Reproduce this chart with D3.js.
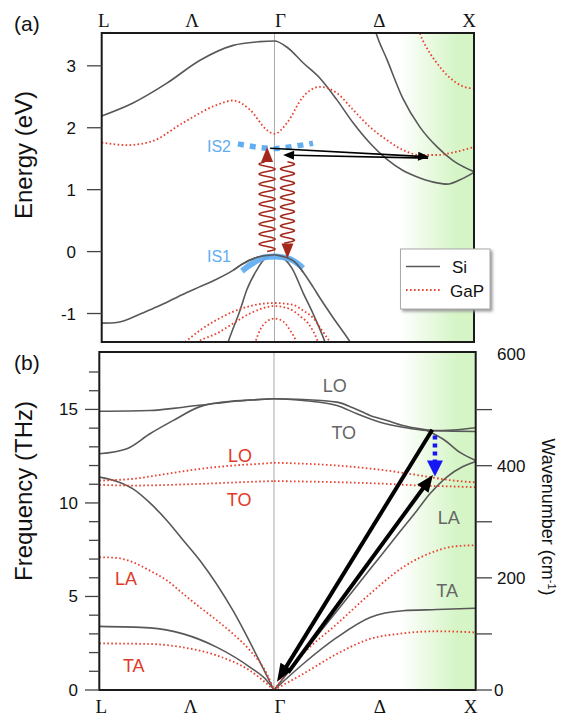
<!DOCTYPE html>
<html>
<head>
<meta charset="utf-8">
<script src="https://cdn.jsdelivr.net/npm/d3@7/dist/d3.min.js"></script>
<style>
  body { margin: 0; background: #fff; }
  svg text { font-family: 'Liberation Sans', Arial, Helvetica, sans-serif; }
</style>
</head>
<body>
<div id="chart"></div>
<script>
// path positions, units of 2pi/a  (L -> Gamma -> X)
var kPoints = [0, 0.433, 0.866, 1.366, 1.866];
var kLabels = ['L', 'Λ', 'Γ', 'Δ', 'X'];
var energyTicks = [-1, 0, 1, 2, 3];
var freqTicks = [0, 5, 10, 15];
var freqMinor = [1, 2, 3, 4, 6, 7, 8, 9, 11, 12, 13, 14, 16, 17];
var waveTicks = [0, 100, 200, 300, 400, 500];
var waveLabels = [0, 200, 400, 600];

// (a) electron bands [k, E (eV)]
var siBand1 = [[0,2.19],[0.157,2.40],[0.327,2.72],[0.493,3.09],[0.659,3.33],[0.793,3.39],[0.866,3.40],[0.929,3.30],[1.009,3.05],[1.094,2.80],[1.179,2.45],[1.26,2.08],[1.345,1.75],[1.43,1.49],[1.51,1.31],[1.595,1.19],[1.681,1.11],[1.731,1.09],[1.796,1.16],[1.866,1.28]];
var siBand2 = [[1.355,3.75],[1.375,3.53],[1.43,3.10],[1.51,2.47],[1.595,2.01],[1.681,1.69],[1.761,1.47],[1.866,1.29]];
var siVal1 = [[0,-1.155],[0.05,-1.152],[0.10,-1.13],[0.15,-1.07],[0.22,-0.97],[0.30,-0.86],[0.40,-0.70],[0.49,-0.57],[0.56,-0.47],[0.66,-0.30],[0.70,-0.21],[0.78,-0.09],[0.866,-0.05]];
var siVal2 = [[0.613,-1.67],[0.634,-1.46],[0.693,-0.95],[0.727,-0.62],[0.777,-0.30],[0.819,-0.11],[0.866,-0.05]];
var siVal3 = [[0.866,-0.05],[0.929,-0.10],[0.969,-0.17],[1.009,-0.33],[1.059,-0.57],[1.094,-0.75],[1.169,-1.11],[1.245,-1.46],[1.275,-1.62]];
var siVal4 = [[0.866,-0.05],[0.919,-0.13],[0.954,-0.27],[1.010,-0.67],[1.059,-1.00],[1.119,-1.46],[1.134,-1.60]];
var gapBand1 = [[0,1.76],[0.127,1.72],[0.242,1.77],[0.408,2.08],[0.578,2.37],[0.658,2.44],[0.743,2.29],[0.829,1.96],[0.866,1.90],[0.929,2.08],[1.009,2.50],[1.094,2.66],[1.179,2.56],[1.26,2.29],[1.345,2.01],[1.43,1.80],[1.51,1.64],[1.595,1.56],[1.681,1.56],[1.761,1.60],[1.866,1.69]];
var gapBand2 = [[1.575,3.71],[1.595,3.52],[1.646,3.20],[1.681,3.04],[1.731,2.85],[1.781,2.72],[1.846,2.64],[1.866,2.64]];
var gapVal1 = [[0.355,-1.62],[0.418,-1.46],[0.493,-1.27],[0.578,-1.10],[0.659,-0.97],[0.743,-0.88],[0.866,-0.83],[0.959,-0.86],[1.009,-0.95],[1.059,-1.07],[1.104,-1.27],[1.144,-1.46],[1.174,-1.60]];
var gapVal2 = [[0.41,-1.62],[0.478,-1.46],[0.578,-1.32],[0.659,-1.16],[0.743,-1.00],[0.866,-0.88],[0.944,-0.93],[0.994,-1.04],[1.044,-1.20],[1.084,-1.46],[1.10,-1.62]];
var gapVal3 = [[0.753,-1.62],[0.768,-1.48],[0.793,-1.27],[0.827,-1.13],[0.866,-1.08],[0.91,-1.13],[0.944,-1.27],[0.977,-1.48],[0.989,-1.62]];

// intermediate states and transitions in (a)
var is2Path = [[0.683,1.74],[0.773,1.69],[0.866,1.665],[0.964,1.70],[1.059,1.75]];
var is1Path = [[0.703,-0.315],[0.743,-0.218],[0.783,-0.137],[0.823,-0.089],[0.866,-0.081],[0.903,-0.089],[0.943,-0.121],[0.979,-0.186],[1.009,-0.267]];
var photonUp = { k: 0.829, from: 0.0, to: 1.69 };
var photonDown = { k: 0.931, from: 1.45, to: -0.11 };
var hopOut = { k1: 0.844, e1: 1.67, k2: 1.641, e2: 1.53 };
var hopBack = { k1: 1.636, e1: 1.51, k2: 0.909, e2: 1.56 };

// (b) phonon branches [k, f (THz)]
var siOpt1 = [[0,14.90],[0.251,14.94],[0.416,15.12],[0.584,15.33],[0.748,15.50],[0.866,15.57]];
var siOpt2 = [[0,12.63],[0.137,12.90],[0.251,13.70],[0.365,14.40],[0.499,15.15],[0.663,15.45],[0.748,15.50],[0.866,15.57]];
var siOpt3 = [[0.866,15.57],[1.010,15.53],[1.178,15.39],[1.257,15.09],[1.342,14.68],[1.426,14.41],[1.505,14.14],[1.590,13.96],[1.654,13.87],[1.753,13.90],[1.866,14.02]];
var siOpt4 = [[0.866,15.57],[1.010,15.48],[1.178,15.21],[1.277,14.77],[1.392,14.32],[1.505,14.05],[1.624,13.87],[1.753,13.84],[1.866,13.82]];
var siOpt5 = [[1.624,13.87],[1.714,13.34],[1.788,12.70],[1.866,12.27]];
var siLA1 = [[0,11.38],[0.088,11.15],[0.167,10.75],[0.251,10.00],[0.336,9.05],[0.416,8.00],[0.499,6.92],[0.663,4.24],[0.831,0.75],[0.866,0]];
var siTA1 = [[0,3.40],[0.251,3.32],[0.416,3.00],[0.584,2.28],[0.748,1.21],[0.831,0.50],[0.866,0]];
var siLA2 = [[0.866,0],[1.010,1.95],[1.178,4.23],[1.342,6.45],[1.491,8.47],[1.575,9.60],[1.640,10.50],[1.724,11.40],[1.803,11.95],[1.866,12.22]];
var siTA2 = [[0.866,0],[1.010,1.39],[1.178,2.81],[1.342,3.88],[1.505,4.24],[1.674,4.30],[1.866,4.37]];
var gapLO1 = [[0,11.20],[0.167,11.29],[0.336,11.56],[0.499,11.82],[0.663,12.00],[0.831,12.12],[0.866,12.15]];
var gapTO1 = [[0,10.97],[0.167,10.93],[0.499,11.02],[0.831,11.16],[0.866,11.17]];
var gapLO2 = [[0.866,12.15],[1.178,12.00],[1.426,11.73],[1.590,11.47],[1.753,11.20],[1.866,11.10]];
var gapTO2 = [[0.866,11.17],[1.178,11.11],[1.426,11.02],[1.590,10.93],[1.753,10.88],[1.866,10.84]];
var gapLA1 = [[0,7.10],[0.088,7.06],[0.167,6.83],[0.251,6.38],[0.336,5.85],[0.416,5.14],[0.499,4.42],[0.584,3.71],[0.663,3.00],[0.748,2.10],[0.831,0.86],[0.866,0]];
var gapTA1 = [[0,2.49],[0.251,2.46],[0.416,2.28],[0.584,1.84],[0.748,1.03],[0.866,0]];
var gapLA2 = [[0.866,0],[1.010,1.93],[1.178,3.53],[1.342,5.14],[1.505,6.56],[1.674,7.45],[1.753,7.67],[1.866,7.74]];
var gapTA2 = [[0.866,0],[1.010,0.86],[1.178,1.93],[1.342,2.73],[1.505,3.03],[1.674,3.14],[1.866,3.08]];

// branch names [text, k, f, material]
var branchNames = [['LO',1.167,15.92,'si'],['TO',1.212,13.43,'si'],['LA',1.733,8.88,'si'],['TA',1.724,4.99,'si'],
                   ['LO',0.698,12.18,'gap'],['TO',0.693,9.86,'gap'],['LA',0.132,5.63,'gap'],['TA',0.171,0.94,'gap']];
// phonon scattering arrows in (b)
var phonon1 = { k1: 1.651, f1: 13.91, k2: 0.881, f2: 0.44 };
var phonon2 = { k1: 0.936, f1: 0.93, k2: 1.654, f2: 11.50 };
var decay = { k: 1.664, f1: 13.60, f2: 11.42 };

var THZ_TO_CM = 33.356;

var W = 561, H = 719;
var siColor = '#585858', gapColor = '#e8402e';
var boxA = { left: 101.7, right: 474, top: 33, bottom: 342 };
var boxB = { left: 99.3, right: 475.7, top: 352, bottom: 690 };

var svg = d3.select('#chart').append('svg').attr('width', W).attr('height', H);
var defs = svg.append('defs');

var grad = defs.append('linearGradient').attr('id', 'greenFade')
    .attr('gradientUnits', 'userSpaceOnUse').attr('x1', 400).attr('x2', 457).attr('y1', 0).attr('y2', 0);
grad.append('stop').attr('offset', 0).attr('stop-color', '#ffffff');
grad.append('stop').attr('offset', 1).attr('stop-color', '#d5f5c6');

var shadow = defs.append('filter').attr('id', 'shadow').attr('x', -0.2).attr('y', -0.2).attr('width', 1.5).attr('height', 1.5);
shadow.append('feDropShadow').attr('dx', 2).attr('dy', 2).attr('stdDeviation', 1.5).attr('flood-color', '#999');

defs.append('clipPath').attr('id', 'clipA').append('rect')
    .attr('x', boxA.left).attr('y', boxA.top).attr('width', boxA.right - boxA.left).attr('height', boxA.bottom - boxA.top);
defs.append('clipPath').attr('id', 'clipB').append('rect')
    .attr('x', boxB.left).attr('y', boxB.top).attr('width', boxB.right - boxB.left).attr('height', boxB.bottom - boxB.top);

var xA = d3.scaleLinear().domain([0, 1.866]).range([boxA.left, boxA.right]);
var yA = d3.scaleLinear().domain([-1.46, 3.53]).range([boxA.bottom, boxA.top]);
var xB = d3.scaleLinear().domain([0, 1.866]).range([boxB.left, boxB.right]);
var yB = d3.scaleLinear().domain([0, 18.07]).range([boxB.bottom, boxB.top]);
var yW = d3.scaleLinear().domain([0, 18.07 * THZ_TO_CM]).range([boxB.bottom, boxB.top]);

function drawCurve(g, xs, ys, pts, mat) {
    var line = d3.line().x(d => xs(d[0])).y(d => ys(d[1])).curve(d3.curveMonotoneX);
    var p = g.append('path').datum(pts).attr('d', line).attr('fill', 'none');
    if (mat == 'si') {
        p.attr('stroke', siColor).attr('stroke-width', 1.6);
    } else {
        p.attr('stroke', gapColor).attr('stroke-width', 1.8).attr('stroke-dasharray', '1.6,2.4');
    }
}

function arrowHead(g, x1, y1, x2, y2, len, half, color) {
    var a = Math.atan2(y2 - y1, x2 - x1);
    var bx = x2 - len * Math.cos(a), by = y2 - len * Math.sin(a);
    var px = -Math.sin(a) * half, py = Math.cos(a) * half;
    g.append('path')
        .attr('d', 'M' + x2 + ',' + y2 + 'L' + (bx + px) + ',' + (by + py) + 'L' + (bx - px) + ',' + (by - py) + 'Z')
        .attr('fill', color);
}

function arrow(g, x1, y1, x2, y2, width, len, half, color, dash) {
    var a = Math.atan2(y2 - y1, x2 - x1);
    var bx = x2 - (len - 2) * Math.cos(a), by = y2 - (len - 2) * Math.sin(a);
    var l = g.append('line').attr('x1', x1).attr('y1', y1).attr('x2', bx).attr('y2', by)
        .attr('stroke', color).attr('stroke-width', width);
    if (dash) l.attr('stroke-dasharray', dash);
    arrowHead(g, x1, y1, x2, y2, len, half, color);
}

function wavy(g, x, y0, y1, amp, period, color) {
    var n = Math.abs(y1 - y0), dir = y1 > y0 ? 1 : -1;
    var pts = d3.range(0, n + 0.25, 0.5).map(function(t) {
        return [x + amp * Math.sin(2 * Math.PI * t / period), y0 + dir * t];
    });
    g.append('path').attr('d', d3.line()(pts)).attr('fill', 'none')
        .attr('stroke', color).attr('stroke-width', 1.5);
}

// ---------- panel (a) ----------
var gA = svg.append('g');
gA.append('rect').attr('x', 400).attr('y', boxA.top).attr('width', boxA.right - 400).attr('height', boxA.bottom - boxA.top)
    .attr('fill', 'url(#greenFade)');
gA.append('line').attr('x1', xA(0.866)).attr('x2', xA(0.866)).attr('y1', boxA.top).attr('y2', boxA.bottom)
    .attr('stroke', '#aaa').attr('stroke-width', 1);

var curvesA = gA.append('g').attr('clip-path', 'url(#clipA)');
[siBand1, siBand2, siVal1, siVal2, siVal3, siVal4].forEach(d => drawCurve(curvesA, xA, yA, d, 'si'));
[gapBand1, gapBand2, gapVal1, gapVal2, gapVal3].forEach(d => drawCurve(curvesA, xA, yA, d, 'gap'));

var isColor = '#62aef2';
var isLine = d3.line().x(d => xA(d[0])).y(d => yA(d[1])).curve(d3.curveMonotoneX);
gA.append('path').datum(is2Path).attr('d', isLine).attr('fill', 'none')
    .attr('stroke', isColor).attr('stroke-width', 5.5).attr('stroke-dasharray', '6,6');
gA.append('path').datum(is1Path).attr('d', isLine).attr('fill', 'none')
    .attr('stroke', isColor).attr('stroke-width', 6).attr('opacity', 0.95);
// redraw the Si valence top over the IS1 band
drawCurve(gA.append('g').attr('clip-path', 'url(#clipA)'), xA, yA, siVal1.slice(9), 'si');
drawCurve(gA.append('g').attr('clip-path', 'url(#clipA)'), xA, yA, siVal3.slice(0, 4), 'si');

gA.append('text').attr('x', xA(0.588)).attr('y', yA(1.61)).attr('text-anchor', 'middle')
    .attr('fill', isColor).attr('font-size', 16).text('IS2');
gA.append('text').attr('x', xA(0.588)).attr('y', yA(-0.165)).attr('text-anchor', 'middle')
    .attr('fill', isColor).attr('font-size', 16).text('IS1');

var waveColor = '#a3281b';
var upX = xA(photonUp.k), upTip = yA(photonUp.to);
wavy(gA, upX, yA(photonUp.from), upTip + 15, 8, 10, waveColor);
arrowHead(gA, upX, upTip + 30, upX, upTip, 15, 6, waveColor);
var dnX = xA(photonDown.k), dnTip = yA(photonDown.to);
wavy(gA, dnX, yA(photonDown.from), dnTip - 15, 7, 9.5, waveColor);
arrowHead(gA, dnX, dnTip - 30, dnX, dnTip, 15, 6, waveColor);

arrow(gA, xA(hopOut.k1), yA(hopOut.e1), xA(hopOut.k2), yA(hopOut.e2), 1.6, 11, 4.5, '#000');
arrow(gA, xA(hopBack.k1), yA(hopBack.e1), xA(hopBack.k2), yA(hopBack.e2), 1.6, 11, 4.5, '#000');

gA.append('rect').attr('x', boxA.left).attr('y', boxA.top).attr('width', boxA.right - boxA.left)
    .attr('height', boxA.bottom - boxA.top).attr('fill', 'none').attr('stroke', '#1a1a1a').attr('stroke-width', 2);

energyTicks.forEach(function(v) {
    gA.append('line').attr('x1', 87).attr('x2', boxA.left).attr('y1', yA(v)).attr('y2', yA(v))
        .attr('stroke', '#444').attr('stroke-width', 1.3);
    gA.append('text').attr('x', 76).attr('y', yA(v) + 6).attr('text-anchor', 'end')
        .attr('font-size', 17).attr('fill', '#111').text(v);
});

kPoints.forEach(function(k, i) {
    var dx = [2, 4, 6, 5, -5][i];
    svg.append('text').attr('x', xA(k) + dx).attr('y', 27).attr('text-anchor', 'middle')
        .style('font-family', "'Liberation Serif', 'Times New Roman', serif").attr('font-size', 19)
        .attr('fill', '#111').text(kLabels[i]);
    svg.append('text').attr('x', xB(k) + dx).attr('y', 713).attr('text-anchor', 'middle')
        .style('font-family', "'Liberation Serif', 'Times New Roman', serif").attr('font-size', 19)
        .attr('fill', '#111').text(kLabels[i]);
});

svg.append('text').attr('x', 14).attr('y', 31).attr('font-size', 21).attr('fill', '#111').text('(a)');
svg.append('text').attr('x', 14).attr('y', 370).attr('font-size', 21).attr('fill', '#111').text('(b)');
svg.append('text').attr('transform', 'translate(32,155) rotate(-90)').attr('text-anchor', 'middle')
    .attr('font-size', 24).attr('fill', '#111').text('Energy (eV)');
svg.append('text').attr('transform', 'translate(32,491) rotate(-90)').attr('text-anchor', 'middle')
    .attr('font-size', 24).attr('fill', '#111').text('Frequency (THz)');
var wt = svg.append('text').attr('transform', 'translate(542,517) rotate(90)').attr('text-anchor', 'middle')
    .attr('font-size', 18).attr('fill', '#111');
wt.append('tspan').text('Wavenumber (cm');
wt.append('tspan').attr('font-size', 11).attr('dy', -6).text('-1');
wt.append('tspan').attr('dy', 6).text(')');

// legend
var lg = svg.append('g');
lg.append('rect').attr('x', 400.5).attr('y', 249).attr('width', 89.5).attr('height', 60)
    .attr('fill', '#fff').attr('stroke', '#aaa').attr('stroke-width', 1).attr('filter', 'url(#shadow)');
lg.append('line').attr('x1', 406).attr('x2', 440).attr('y1', 266.5).attr('y2', 266.5)
    .attr('stroke', siColor).attr('stroke-width', 1.6);
lg.append('line').attr('x1', 406).attr('x2', 440).attr('y1', 290).attr('y2', 290)
    .attr('stroke', gapColor).attr('stroke-width', 1.8).attr('stroke-dasharray', '1.6,2.4');
lg.append('text').attr('x', 452).attr('y', 272.5).attr('font-size', 17).attr('fill', '#111').text('Si');
lg.append('text').attr('x', 450).attr('y', 296.5).attr('font-size', 17).attr('fill', '#111').text('GaP');

// ---------- panel (b) ----------
var gB = svg.append('g');
gB.append('rect').attr('x', 400).attr('y', boxB.top).attr('width', boxB.right - 400).attr('height', boxB.bottom - boxB.top)
    .attr('fill', 'url(#greenFade)');
gB.append('line').attr('x1', xB(0.866)).attr('x2', xB(0.866)).attr('y1', boxB.top).attr('y2', boxB.bottom)
    .attr('stroke', '#aaa').attr('stroke-width', 1);

var curvesB = gB.append('g').attr('clip-path', 'url(#clipB)');
[siOpt1, siOpt2, siOpt3, siOpt4, siOpt5, siLA1, siTA1, siLA2, siTA2].forEach(d => drawCurve(curvesB, xB, yB, d, 'si'));
[gapLO1, gapTO1, gapLO2, gapTO2, gapLA1, gapTA1, gapLA2, gapTA2].forEach(d => drawCurve(curvesB, xB, yB, d, 'gap'));

branchNames.forEach(function(b) {
    gB.append('text').attr('x', xB(b[1])).attr('y', yB(b[2])).attr('text-anchor', 'middle')
        .attr('font-size', 18).attr('fill', b[3] == 'si' ? '#666' : '#e03a28').text(b[0]);
});

arrow(gB, xB(phonon1.k1), yB(phonon1.f1), xB(phonon1.k2), yB(phonon1.f2), 4, 18, 7, '#000');
arrow(gB, xB(phonon2.k1), yB(phonon2.f1), xB(phonon2.k2), yB(phonon2.f2), 4, 17, 7, '#000');
arrow(gB, xB(decay.k), yB(decay.f1), xB(decay.k), yB(decay.f2), 4.5, 16, 8, '#1717f5', '4,4');

gB.append('rect').attr('x', boxB.left).attr('y', boxB.top).attr('width', boxB.right - boxB.left)
    .attr('height', boxB.bottom - boxB.top).attr('fill', 'none').attr('stroke', '#1a1a1a').attr('stroke-width', 2);

freqTicks.forEach(function(v) {
    gB.append('line').attr('x1', 85).attr('x2', boxB.left).attr('y1', yB(v)).attr('y2', yB(v))
        .attr('stroke', '#444').attr('stroke-width', 1.3);
    gB.append('text').attr('x', 78).attr('y', yB(v) + 6).attr('text-anchor', 'end')
        .attr('font-size', 17).attr('fill', '#111').text(v);
});
freqMinor.forEach(function(v) {
    gB.append('line').attr('x1', 89).attr('x2', boxB.left).attr('y1', yB(v)).attr('y2', yB(v))
        .attr('stroke', '#444').attr('stroke-width', 1.3);
});
waveTicks.forEach(function(v) {
    gB.append('line').attr('x1', boxB.right).attr('x2', 492).attr('y1', yW(v)).attr('y2', yW(v))
        .attr('stroke', '#444').attr('stroke-width', 1.3);
});
waveLabels.forEach(function(v) {
    gB.append('text').attr('x', v == 0 ? 494 : 497).attr('y', yW(v) + 6)
        .attr('font-size', 17).attr('fill', '#111').text(v);
});
</script>
</body>
</html>
